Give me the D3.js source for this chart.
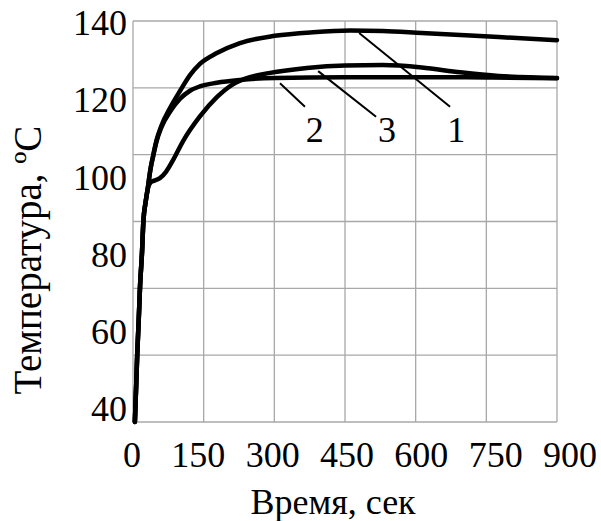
<!DOCTYPE html>
<html><head><meta charset="utf-8">
<script src="https://cdn.jsdelivr.net/npm/d3@7"></script>
<style>html,body{margin:0;padding:0;background:#fff;}svg{display:block;}
text{font-family:"Liberation Serif","Tinos","Times New Roman","DejaVu Serif","Noto Serif",serif;}</style>
</head><body>
<svg id="chart" width="601" height="521"></svg>
<script>
// ---- data ----
const xTickLabels = [0, 150, 300, 450, 600, 750, 900];
const yTickLabels = [140, 120, 100, 80, 60, 40];
const curve1 = [[4,40],[7,50],[9,57],[12,65],[15,74],[19,82],[22,90],[27,95],[31,98],[37,103],[43,106.6],[50,110.3],[60,113.8],[80,118.6],[100,122.6],[121,126.5],[142,129.3],[178,132],[227,134.5],[301,136.3],[382,137.2],[461,137.6],[530,137.5],[613,137],[695,136.5],[776,136],[900,135.2]];
const curve2 = [[4,40],[7,50],[9,57],[12,65],[15,74],[19,82],[22,90],[27,95],[31,98],[37,103],[43,106.4],[50,110],[60,113.4],[80,117.6],[100,120.6],[121,122.6],[142,123.7],[178,124.6],[227,125.3],[301,125.8],[450,126],[600,126],[750,125.9],[900,125.7]];
const curve3 = [[4,40],[7,50],[9,57],[12,65],[15,74],[19,82],[22,90],[27,95],[33,98.8],[38,99.8],[45,100.2],[57,100.8],[70,102.4],[85,105.3],[106,110],[142,116.2],[178,121],[212,124.2],[248,126],[288,127],[369,128.3],[450,128.9],[530,129],[613,128.4],[695,127.2],[776,126.3],[900,125.8]];
const seriesNames = ["1", "2", "3"];
const leaders = [
  {name:"2", x1:312, y1:124.5, x2:365, y2:118.6, lx:386, ly:109.8},
  {name:"3", x1:393, y1:127.5, x2:516, y2:116.1, lx:539, ly:109.8},
  {name:"1", x1:480, y1:137.0, x2:673, y2:118.6, lx:686, ly:109.8}
];

// ---- scales ----
const svg = d3.select("#chart");
const x = d3.scaleLinear().domain([0, 900]).range([133, 557]);
const y = d3.scaleLinear().domain([40, 140]).range([422, 21]);
const xLabel = d3.scaleLinear().domain([0, 900]).range([124, 570]);
const yLabel = d3.scaleLinear().domain([40, 140]).range([409, 23]);

// grid
const g = svg.append("g");
g.selectAll("line.v").data(xTickLabels).join("line")
  .attr("x1", d => x(d)).attr("x2", d => x(d))
  .attr("y1", y(40)).attr("y2", y(140))
  .attr("stroke", "#a8a8a8").attr("stroke-width", 1.3);
g.selectAll("line.h").data(d3.range(0, 7)).join("line")
  .attr("x1", x(0)).attr("x2", x(900))
  .attr("y1", d => y(40 + d * 100 / 6)).attr("y2", d => y(40 + d * 100 / 6))
  .attr("stroke", "#a8a8a8").attr("stroke-width", 1.3);

// tick labels
svg.append("g").selectAll("text").data(xTickLabels).join("text")
  .attr("x", d => Math.max(xLabel(d), 132)).attr("y", 467)
  .attr("text-anchor", "middle")
  .attr("font-size", 36).attr("fill", "#000")
  .text(d => d);
svg.append("g").selectAll("text").data(yTickLabels).join("text")
  .attr("x", 127).attr("y", d => yLabel(d)).attr("dy", "0.34em")
  .attr("text-anchor", "end")
  .attr("font-size", 36).attr("fill", "#000")
  .text(d => d);

// axis titles
svg.append("text").attr("x", 333).attr("y", 514).attr("text-anchor", "middle")
  .attr("font-size", 36).text("Время, сек");
svg.append("text").attr("transform", "translate(41,260) rotate(-90)").attr("text-anchor", "middle")
  .attr("font-size", 39).text("Температура, ºС");

// curves
const line = d3.line().x(d => x(d[0])).y(d => y(d[1])).curve(d3.curveMonotoneX);
svg.append("g").selectAll("path").data([curve1, curve2, curve3]).join("path")
  .attr("d", line).attr("fill", "none").attr("stroke", "#000")
  .attr("stroke-width", 4.5).attr("stroke-linejoin", "round").attr("stroke-linecap", "round");

// leaders + labels
const ann = svg.append("g");
ann.selectAll("line").data(leaders).join("line")
  .attr("x1", d => x(d.x1)).attr("y1", d => y(d.y1))
  .attr("x2", d => x(d.x2)).attr("y2", d => y(d.y2))
  .attr("stroke", "#000").attr("stroke-width", 2);
ann.selectAll("text").data(leaders).join("text")
  .attr("x", d => x(d.lx)).attr("y", d => y(d.ly)).attr("text-anchor", "middle")
  .attr("font-size", 36).text(d => d.name);
</script>
</body></html>
